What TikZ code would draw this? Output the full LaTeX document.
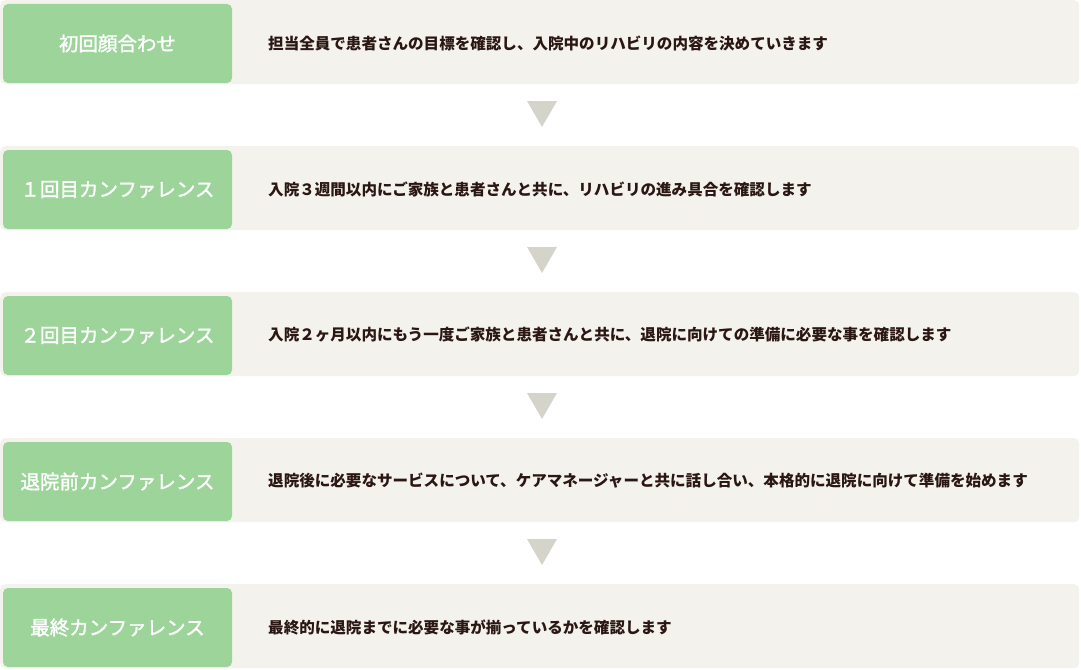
\documentclass[tikz,border=0pt]{standalone}
\usepackage{fontspec}
\newfontfamily\jp{Noto Sans CJK JP}
\newfontfamily\jpmed[FakeBold=1.6]{Noto Sans CJK JP}
\definecolor{barbg}{HTML}{F3F2EC}
\definecolor{labelgreen}{HTML}{9CD49A}
\definecolor{desctext}{HTML}{2A1612}
\definecolor{arrowgray}{HTML}{D4D4CB}
\tikzset{
  barbox/.style={fill=barbg, rounded corners=5pt, minimum width=1079pt, minimum height=84pt, inner sep=0pt, anchor=north west},
  labelbox/.style={fill=labelgreen, rounded corners=5pt, minimum width=229pt, minimum height=79pt, inner sep=0pt, text=white, font=\jpmed\fontsize{19.5pt}{23pt}\selectfont},
  desc/.style={anchor=west, inner sep=0pt, text=desctext, font=\jp\bfseries\fontsize{15.55pt}{18pt}\selectfont},
  downtri/.style={fill=arrowgray},
}
\begin{document}
\begin{tikzpicture}[x=1pt,y=-1pt]
\useasboundingbox (0,0) rectangle (1081,669);
\foreach \i/\lab/\txt in {
  0/初回顔合わせ/担当全員で患者さんの目標を確認し、入院中のリハビリの内容を決めていきます,
  1/１回目カンファレンス/入院３週間以内にご家族と患者さんと共に、リハビリの進み具合を確認します,
  2/２回目カンファレンス/入院２ヶ月以内にもう一度ご家族と患者さんと共に、退院に向けての準備に必要な事を確認します,
  3/退院前カンファレンス/退院後に必要なサービスについて、ケアマネージャーと共に話し合い、本格的に退院に向けて準備を始めます,
  4/最終カンファレンス/最終的に退院までに必要な事が揃っているかを確認します}{
  \node[barbox] (bar\i) at (0,{146*\i}) {};
  \node[labelbox] (lab\i) at (117.5,{146*\i+43.5}) {\lab};
  \node[desc] (desc\i) at (268,{146*\i+43}) {\txt};
}
\foreach \i in {0,1,2,3}{
  \coordinate (tl\i) at (527,{146*\i+101});
  \coordinate (tr\i) at (557,{146*\i+101});
  \coordinate (tb\i) at (542,{146*\i+127});
  \fill[downtri] (tl\i) -- (tr\i) -- (tb\i) -- cycle;
}
\end{tikzpicture}
\end{document}
